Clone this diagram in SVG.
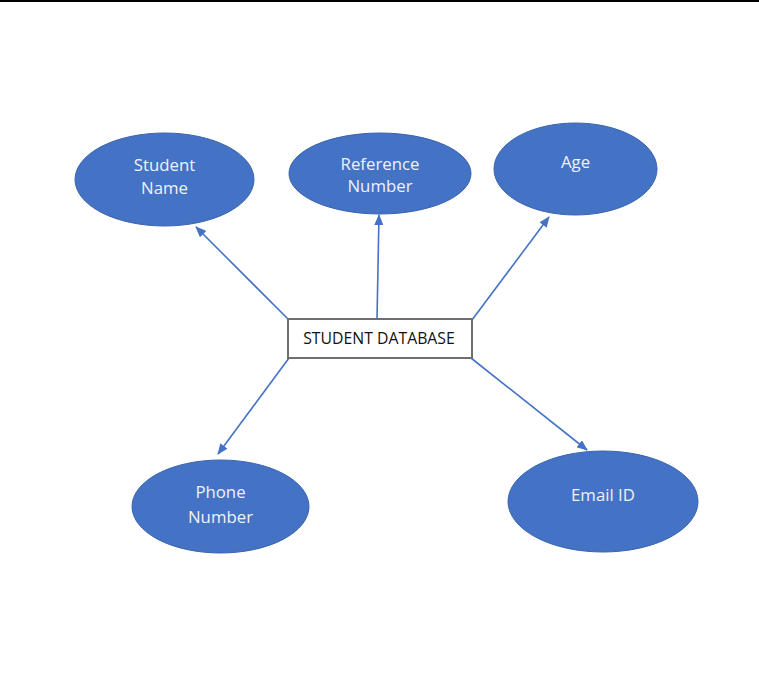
<svg xmlns="http://www.w3.org/2000/svg" width="759" height="685" viewBox="0 0 759 685">
<style>
.node ellipse{fill:#4472C4;stroke:#3A64AE;stroke-width:1}
.node text{fill:#EEF2FA;font-family:"Open Sans","Liberation Sans",sans-serif;font-size:16.8px;text-anchor:middle}
.box rect{fill:#FFFFFF;stroke:#6E6E6E;stroke-width:2}
.box text{fill:#111111;font-family:"Open Sans","Liberation Sans",sans-serif;font-size:15.8px;text-anchor:middle}
.conn line{stroke:#4472C4;stroke-width:1.6;marker-end:url(#arr)}
</style>
<defs>
<marker id="arr" markerWidth="11" markerHeight="9" refX="10" refY="4.5" orient="auto" markerUnits="userSpaceOnUse">
<path d="M0,0 L11,4.5 L0,9 Z" fill="#4472C4"/>
</marker>
</defs>
<rect width="759" height="685" fill="#FFFFFF"/>
<line x1="0" y1="1" x2="759" y2="1" stroke="#000000" stroke-width="2"/>
<g id="connectors" class="conn">
<line x1="288" y1="319" x2="196" y2="227"/>
<line x1="377" y1="319" x2="379" y2="215"/>
<line x1="472" y1="320" x2="549" y2="217"/>
<line x1="289" y1="358" x2="218" y2="454"/>
<line x1="471" y1="358" x2="587" y2="450"/>
</g>
<g id="student-name" class="node">
<ellipse cx="164.5" cy="179.5" rx="89.5" ry="46.5"/>
<text x="164.5" y="171">Student</text>
<text x="164.5" y="194">Name</text>
</g>
<g id="reference-number" class="node">
<ellipse cx="380" cy="173.5" rx="91" ry="40.5"/>
<text x="380" y="170">Reference</text>
<text x="380" y="192">Number</text>
</g>
<g id="age" class="node">
<ellipse cx="575.5" cy="169" rx="81.5" ry="46"/>
<text x="575.5" y="168">Age</text>
</g>
<g id="phone-number" class="node">
<ellipse cx="220.5" cy="506.5" rx="88.5" ry="46.5"/>
<text x="220.5" y="498">Phone</text>
<text x="220.5" y="523">Number</text>
</g>
<g id="email-id" class="node">
<ellipse cx="603" cy="501.5" rx="95" ry="50.5"/>
<text x="603" y="501">Email ID</text>
</g>
<g id="student-database" class="box">
<rect x="288" y="319" width="184" height="39"/>
<text x="379" y="343.5">STUDENT DATABASE</text>
</g>
</svg>
